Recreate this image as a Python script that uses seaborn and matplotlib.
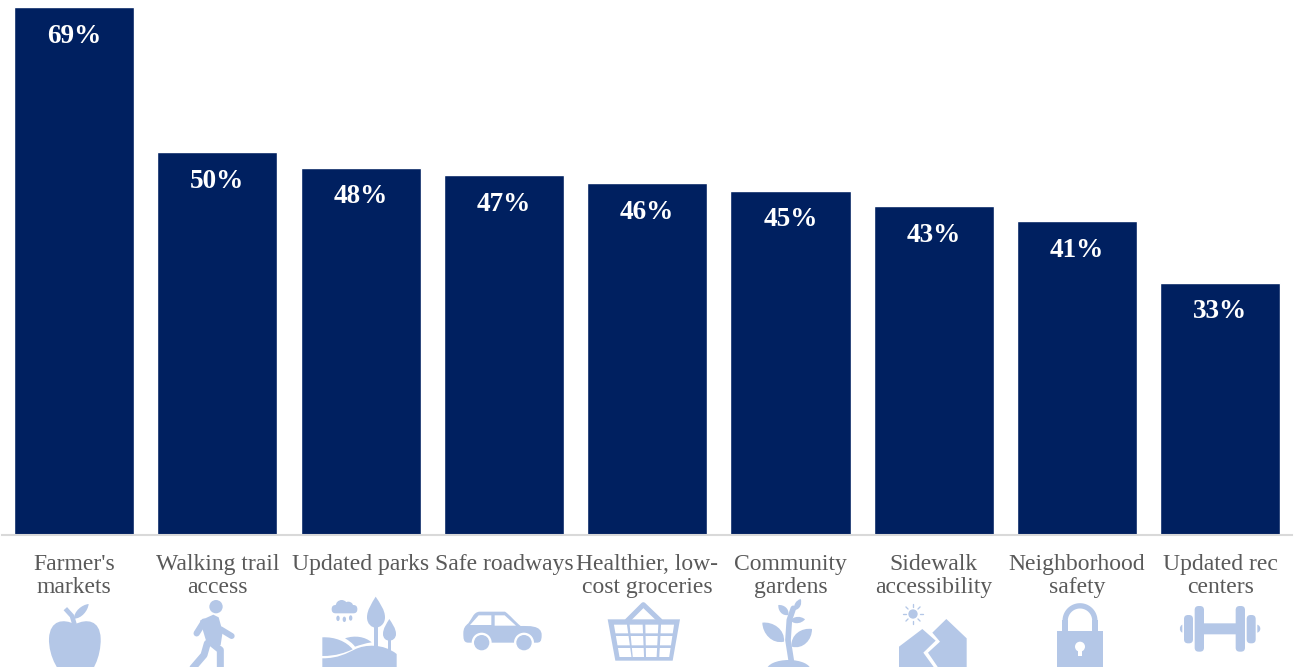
import numpy as np
import pandas as pd
import matplotlib
matplotlib.use("Agg")
import matplotlib.pyplot as plt
from matplotlib.path import Path
from matplotlib.patches import PathPatch, Circle, Polygon, FancyBboxPatch, Ellipse
import seaborn as sns

# Share of respondents choosing each community improvement
categories = ["Farmer's\nmarkets", "Walking trail\naccess", "Updated parks", "Safe roadways",
              "Healthier, low-\ncost groceries", "Community\ngardens", "Sidewalk\naccessibility",
              "Neighborhood\nsafety", "Updated rec\ncenters"]
values = [69, 50, 48, 47, 46, 45, 43, 41, 33]

NAVY = "#002060"
ICON = "#b4c7e7"
TEXT = "#595959"

sns.set_theme(style="white")
plt.rcParams["font.family"] = ["Liberation Serif", "DejaVu Serif"]

W, H = 1294, 667
fig = plt.figure(figsize=(W / 100, H / 100), dpi=100, facecolor="white")
left, right, top, base = 2.4, 1292.0, 7.0, 535.2
ax = fig.add_axes([left / W, 1 - base / H, (right - left) / W, (base - top) / H])

df = pd.DataFrame({"category": categories, "value": values})
sns.barplot(data=df, x="category", y="value", color=NAVY, saturation=1, width=0.838, ax=ax)
ax.set_xlim(-0.5, len(values) - 0.5)
ax.set_ylim(0, max(values))
ax.set_xlabel("")
ax.set_ylabel("")
ax.set_yticks([])
sns.despine(ax=ax, left=True)
ax.spines["bottom"].set_color("#d9d9d9")
ax.spines["bottom"].set_linewidth(1.5)
ax.tick_params(axis="x", length=0, pad=13.5, labelsize=17, labelcolor=TEXT)
for lab in ax.get_xticklabels():
    lab.set_linespacing(1.14)

ax.bar_label(ax.containers[0], fmt="%g%%", padding=-30, color="white",
             fontsize=19.5, fontweight="bold")

# Overlay in pixel units for the pictograms beneath the category names
ov = fig.add_axes([0, 0, 1, 1], facecolor="none")
ov.set_xlim(0, W)
ov.set_ylim(H, 0)
ov.axis("off")


def pts(coords, x0):
    return [(x / 3 + x0, y / 3 + 530) for x, y in coords]


def poly(coords, x0, color=ICON, **kw):
    ov.add_patch(Polygon(pts(coords, x0), closed=True, fc=color, ec="none", **kw))


def curve(verts, x0, color=ICON):
    """Closed shape: first vertex, then triples of cubic Bezier control points."""
    p = pts(verts, x0)
    codes = [Path.MOVETO] + [Path.CURVE4] * (len(p) - 1)
    ov.add_patch(PathPatch(Path(p, codes), fc=color, ec="none"))


def circle(cx, cy, r, x0, color=ICON):
    (x, y), = pts([(cx, cy)], x0)
    ov.add_patch(Circle((x, y), r / 3, fc=color, ec="none"))


def stroke(coords, x0, width, color=ICON, cap="round"):
    p = np.array(pts(coords, x0))
    ov.plot(p[:, 0], p[:, 1], color=color, lw=width / 3 * 0.72,
            solid_capstyle=cap, solid_joinstyle="round")


def rrect(x1, y1, x2, y2, x0, rad=10, color=ICON):
    (a, b), (c, d) = pts([(x1, y1), (x2, y2)], x0)
    r = rad / 3
    ov.add_patch(FancyBboxPatch((a + r, b + r), c - a - 2 * r, d - b - 2 * r,
                                boxstyle=f"round,pad={r},rounding_size={r}",
                                fc=color, ec="none"))


def leaf(bx, by, tx, ty, w, x0, color=ICON):
    b = np.array([bx, by], float)
    t = np.array([tx, ty], float)
    d = t - b
    n = np.array([-d[1], d[0]]) / np.hypot(*d) * w
    verts = [b, b + 0.25 * d + n, b + 0.75 * d + n * 0.8, t,
             b + 0.75 * d - n * 0.8, b + 0.25 * d - n, b]
    curve([tuple(v) for v in verts], x0, color)


# Apple
x0 = 0
curve([(225, 283), (190, 265), (150, 270), (147, 325),
       (145, 380), (180, 440), (205, 440), (215, 440), (222, 432), (226, 432),
       (232, 432), (240, 440), (250, 440), (275, 440), (304, 380), (302, 325),
       (300, 270), (260, 265), (225, 283)], x0)
stroke([(196, 236), (216, 258), (224, 285)], x0, 14, cap="butt")
leaf(222, 266, 266, 222, 16, x0)

# Walking figure
circle(648, 230, 20, x0)
poly([(600, 272), (640, 254), (656, 262), (668, 305), (662, 345), (622, 345)], x0)
stroke([(612, 275), (590, 310)], x0, 19)
stroke([(662, 298), (695, 318)], x0, 18)
stroke([(630, 335), (661, 360), (661, 420)], x0, 21)
stroke([(622, 340), (612, 375), (575, 418)], x0, 21)

# Park with cloud, trees and hills
rrect(995, 225, 1072, 250, x0, rad=12)
circle(1025, 228, 18, x0)
circle(1045, 230, 15, x0)
for cx, cy in [(1014, 265), (1033, 268), (1052, 264)]:
    ov.add_patch(Ellipse(pts([(cx, cy)], x0)[0], 3.4, 5.4, fc=ICON, ec="none"))
curve([(1127, 200), (1115, 220), (1101, 240), (1101, 262),
       (1101, 282), (1115, 293), (1127, 293), (1140, 293), (1155, 282), (1155, 262),
       (1155, 240), (1140, 220), (1127, 200)], x0)
poly([(1121, 290), (1134, 290), (1134, 350), (1121, 350)], x0)
curve([(1168, 267), (1160, 280), (1149, 295), (1149, 312),
       (1149, 325), (1158, 332), (1168, 332), (1178, 332), (1188, 325), (1188, 312),
       (1188, 295), (1176, 280), (1168, 267)], x0)
poly([(1164, 330), (1172, 330), (1172, 365), (1164, 365)], x0)
curve([(967, 322), (1005, 320), (1040, 335), (1058, 358),
       (1035, 368), (1010, 378), (967, 378), (967, 360), (967, 340), (967, 322)], x0)
curve([(1035, 325), (1065, 315), (1095, 320), (1115, 337),
       (1095, 340), (1080, 345), (1065, 350), (1058, 340), (1047, 332), (1035, 325)], x0)
curve([(967, 385), (1015, 385), (1040, 370), (1065, 358),
       (1095, 343), (1150, 340), (1190, 372), (1190, 390), (1190, 410), (1190, 420),
       (1100, 420), (1030, 420), (967, 420), (967, 410), (967, 395), (967, 385)], x0)

# Car
x0 = 430
curve([(100, 310), (100, 295), (105, 288), (115, 280),
       (125, 268), (130, 245), (150, 245), (170, 245), (200, 245), (225, 245),
       (240, 255), (255, 275), (272, 288), (295, 288), (335, 285), (335, 315),
       (335, 335), (330, 338), (320, 338), (250, 338), (170, 338), (115, 338),
       (100, 338), (100, 325), (100, 310)], x0)
poly([(120, 285), (146, 256), (184, 256), (184, 285)], x0, color="white")
poly([(194, 256), (224, 256), (258, 287), (194, 287)], x0, color="white")
for cx in (155, 282):
    circle(cx, 338, 30, x0, color="white")
    circle(cx, 338, 23, x0)

# Shopping basket
stroke([(592, 272), (640, 224), (690, 272)], x0, 15)
poly([(533, 268), (750, 268), (728, 392), (556, 392)], x0)
for ya, yb in [(284, 310), (318, 346), (354, 381)]:
    for k in range(4):
        ft = lambda y, a, b: a + (b - a) * (y - 285) / 93
        xa1, xb1 = 552 + k * 47, 591 + k * 47
        xa2, xb2 = 568 + k * 40, 604 + k * 38
        poly([(ft(ya, xa1, xa2), ya), (ft(ya, xb1, xb2), ya),
              (ft(yb, xb1, xb2), yb), (ft(yb, xa1, xa2), yb)], x0, color="white")

# Seedling
stroke([(1085, 400), (1074, 330), (1078, 270), (1090, 235)], x0, 17)
ov.add_patch(Ellipse(pts([(1076, 420)], x0)[0], 44, 20, fc=ICON, ec="none"))
leaf(1095, 240, 1112, 207, 13, x0)
leaf(1075, 255, 1045, 225, 16, x0)
leaf(1082, 272, 1125, 268, 14, x0)
leaf(1062, 335, 997, 278, 30, x0)
leaf(1085, 350, 1146, 297, 30, x0)

# Cracked sidewalk with sun
x0 = 864
circle(147, 252, 14, x0)
for ang in np.deg2rad(np.arange(0, 360, 45)):
    stroke([(147 + 21 * np.cos(ang), 252 + 21 * np.sin(ang)),
            (147 + 30 * np.cos(ang), 252 + 30 * np.sin(ang))], x0, 4)
poly([(105, 350), (175, 297), (215, 332), (178, 368), (212, 415), (105, 415)], x0)
poly([(205, 308), (247, 267), (308, 325), (308, 415), (224, 415), (192, 368), (228, 335)], x0)

# Padlock
theta = np.linspace(np.pi, 2 * np.pi, 40)
stroke(list(zip(648 + 44.5 * np.cos(theta), 272 + 44.5 * np.sin(theta))), x0, 16, cap="butt")
poly([(595, 270), (612, 270), (612, 310), (595, 310)], x0)
poly([(684, 270), (701, 270), (701, 310), (684, 310)], x0)
poly([(578, 303), (718, 303), (718, 420), (578, 420)], x0)
circle(648, 350, 15, x0, color="white")
poly([(642, 350), (654, 350), (654, 378), (642, 378)], x0, color="white")

# Dumbbell
rrect(1010, 280, 1125, 313, x0, rad=1)
rrect(992, 228, 1020, 365, x0, rad=12)
rrect(1115, 228, 1143, 365, x0, rad=12)
rrect(960, 255, 987, 340, x0, rad=12)
rrect(1148, 255, 1175, 340, x0, rad=12)
curve([(955, 284), (945, 288), (945, 304), (955, 308),
       (955, 300), (955, 292), (955, 284)], x0)
curve([(1180, 284), (1192, 288), (1192, 304), (1180, 308),
       (1180, 300), (1180, 292), (1180, 284)], x0)

fig.savefig("out.png", dpi=100, facecolor="white")
